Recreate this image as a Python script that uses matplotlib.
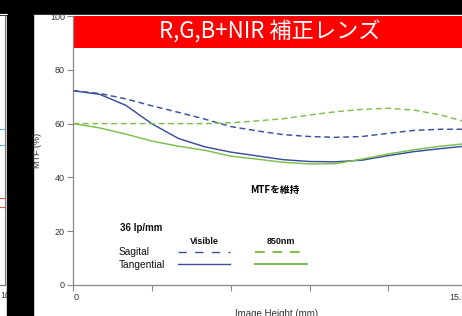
import matplotlib
matplotlib.use('Agg')
import matplotlib.pyplot as plt
from matplotlib.patches import Rectangle
from matplotlib.lines import Line2D

# Image height positions (mm) where the curves were read
image_height = [0, 1, 2, 3, 4, 5, 6, 7, 8, 9, 10, 11, 12, 13, 14, 15]

# MTF (%) at 36 lp/mm
visible_sagital = [72.2, 71.2, 69.2, 66.6, 64.2, 61.7, 58.9, 57.3, 55.9, 55.2, 54.9, 55.2, 56.4, 57.5, 57.9, 57.9]
visible_tangential = [72.2, 70.9, 66.8, 59.9, 54.5, 51.4, 49.4, 48.0, 46.6, 45.9, 45.8, 46.4, 48.1, 49.6, 50.7, 51.7]
nir_sagital = [60.0, 60.0, 60.0, 60.0, 60.0, 60.0, 60.3, 61.0, 61.8, 63.2, 64.4, 65.3, 65.7, 65.0, 63.2, 60.5]
nir_tangential = [60.0, 58.4, 56.1, 53.5, 51.6, 50.1, 47.9, 46.8, 45.6, 45.0, 45.1, 46.8, 48.7, 50.3, 51.6, 52.6]

y_ticks = [0, 20, 40, 60, 80, 100]
x_ticks = [0, 3, 6, 9, 12, 15]
x_tick_labels = ['0', '', '', '', '', '15.0']

title_text = 'R,G,B+NIR 補正レンズ'
note_text = 'MTFを維持'

BLUE = '#3a4f9e'
GREEN = '#7cc04a'
W, H = 462, 316


def fig_box(x0, y0, x1, y1):
    """Convert pixel box (top-left origin) to figure fraction rect."""
    return (x0 / W, 1 - y1 / H, (x1 - x0) / W, (y1 - y0) / H)


def draw_background(fig):
    # black screen with a white slide panel and a sliver of the previous chart
    fig.patch.set_facecolor('black')
    x, y, w, h = fig_box(33, 15, 462, 316)
    fig.add_artist(Rectangle((x, y), w, h, transform=fig.transFigure, color='white', zorder=-5))
    x, y, w, h = fig_box(0, 16, 7, 316)
    fig.add_artist(Rectangle((x, y), w, h, transform=fig.transFigure, color='white', zorder=-5))
    fig.add_artist(Line2D([0, 7 / W], [1 - 14 / H, 1 - 14 / H], transform=fig.transFigure, color='white', lw=0.8, zorder=-4))
    fig.add_artist(Line2D([5 / W, 5 / W], [1 - 16 / H, 1 - 285 / H], transform=fig.transFigure, color='#777777', lw=0.8, zorder=-4))
    fig.add_artist(Line2D([0, 5 / W], [1 - 285 / H, 1 - 285 / H], transform=fig.transFigure, color='#777777', lw=0.8, zorder=-4))
    for py, col in [(129, '#55b8e0'), (145, '#55b8e0'), (198, '#e05a40'), (207, '#e05a40')]:
        fig.add_artist(Line2D([0, 4 / W], [1 - py / H, 1 - py / H], transform=fig.transFigure, color=col, lw=0.8, zorder=-4))
    fig.text(0, 1 - 295 / H, '10', fontsize=6.5, color='#333333', ha='left', va='center',
             family='Liberation Sans', zorder=-4)
    # black gap between the two slides, on top of the cut "10"
    x, y, w, h = fig_box(7, 15, 33, 316)
    fig.add_artist(Rectangle((x, y), w, h, transform=fig.transFigure, color='black', zorder=-3))


def create_mtf_chart():
    fig = plt.figure(figsize=(W / 100, H / 100), dpi=100)
    draw_background(fig)

    # axes run a little past the right edge, as in the screenshot
    ax = fig.add_axes(fig_box(73.3, 16, 467, 285))
    ax.set_facecolor('none')
    ax.set_xlim(0, 15)
    ax.set_ylim(0, 100)

    # red title band
    ax.axhspan(88, 100, color='#ff0000', zorder=1, lw=0)
    ax.text(7.5, 94, title_text, color='white', fontsize=16, ha='center', va='center',
            family=['Noto Sans CJK JP', 'DejaVu Sans'], zorder=3)

    dash = (4, 2.5)
    ax.plot(image_height, visible_sagital, color=BLUE, lw=1.05, dashes=dash, zorder=2)
    ax.plot(image_height, visible_tangential, color=BLUE, lw=1.05, zorder=2)
    ax.plot(image_height, nir_sagital, color=GREEN, lw=1.05, dashes=dash, zorder=2)
    ax.plot(image_height, nir_tangential, color=GREEN, lw=1.05, zorder=2)

    for side in ['top', 'right']:
        ax.spines[side].set_visible(False)
    for side in ['left', 'bottom']:
        ax.spines[side].set_color('#888888')
        ax.spines[side].set_linewidth(0.9)

    ax.set_yticks(y_ticks)
    ax.set_yticklabels([str(v) for v in y_ticks])
    ax.set_xticks(x_ticks)
    ax.set_xticklabels(x_tick_labels)
    ax.tick_params(axis='both', direction='out', length=4.5, width=0.8, color='#888888',
                   labelsize=6.5, labelcolor='#333333', pad=1.5)
    for lab in ax.get_xticklabels() + ax.get_yticklabels():
        lab.set_family('Liberation Sans')
    xl = ax.get_xticklabels()
    xl[0].set_ha('left')
    xl[-1].set_ha('right')

    ax.set_ylabel('MTF (%)', fontsize=6.5, color='#333333', family='Liberation Sans')
    ax.yaxis.set_label_coords(-0.079, 0.5)
    ax.text(0.517, -0.108, 'Image Height (mm)', transform=ax.transAxes, fontsize=7,
            color='#333333', ha='center', va='center', family='Liberation Sans')

    # annotation and hand-made legend
    ax.text(7.68, 35.3, note_text, fontsize=7, fontweight='bold', ha='center', va='center',
            family=['Noto Sans CJK JP', 'DejaVu Sans'])
    small = dict(family='Liberation Sans', va='center', color='#111111')
    ax.text(1.78, 21.2, '36 lp/mm', fontsize=7, fontweight='bold', ha='left', **small)
    ax.text(4.98, 16.0, 'Visible', fontsize=6.5, fontweight='bold', ha='center', **small)
    ax.text(7.9, 16.0, '850nm', fontsize=6.5, fontweight='bold', ha='center', **small)
    ax.text(1.74, 12.3, 'Sagital', fontsize=7.3, ha='left', **small)
    ax.text(1.74, 7.5, 'Tangential', fontsize=7.3, ha='left', **small)
    ax.plot([3.99, 5.97], [12.3, 12.3], color=BLUE, lw=1.0, dashes=(6, 6))
    ax.plot([3.99, 5.97], [7.8, 7.8], color=BLUE, lw=1.0)
    ax.plot([6.92, 8.9], [12.3, 12.3], color=GREEN, lw=1.4, dashes=(5, 4))
    ax.plot([6.92, 8.9], [7.8, 7.8], color=GREEN, lw=1.4)

    fig.savefig('out.png', dpi=100, facecolor=fig.get_facecolor())


if __name__ == '__main__':
    create_mtf_chart()
